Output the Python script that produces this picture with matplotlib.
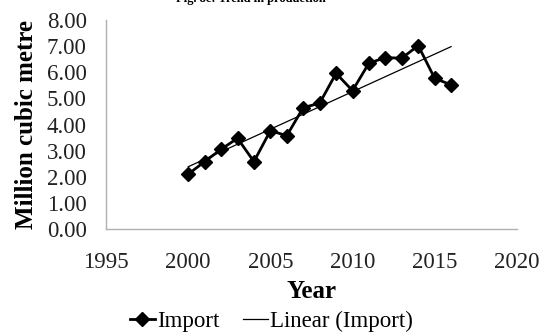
import numpy as np
import matplotlib.pyplot as plt
from matplotlib.ticker import FormatStrFormatter

# Import volume, million cubic metre
years = [2000, 2001, 2002, 2003, 2004, 2005, 2006, 2007, 2008,
         2009, 2010, 2011, 2012, 2013, 2014, 2015, 2016]
imports = [2.11, 2.59, 3.06, 3.48, 2.59, 3.77, 3.58, 4.65, 4.82,
           5.96, 5.30, 6.35, 6.56, 6.54, 7.02, 5.77, 5.52]

x_ticks = [1995, 2000, 2005, 2010, 2015, 2020]
y_ticks = [0, 1, 2, 3, 4, 5, 6, 7, 8]

plt.rcParams['font.family'] = ['Liberation Serif', 'DejaVu Serif']

fig = plt.figure(figsize=(5.44, 3.32), dpi=100)
ax = fig.add_axes([0.195, 0.309, 0.755, 0.631])

# linear trend, as excel's "Linear (Import)"
slope, intercept = np.polyfit(years, imports, 1)
trend = [slope * y + intercept for y in years]

ax.plot(years, imports, color='black', lw=2, marker='D', ms=7,
        label='Import')
ax.plot(years, trend, color='black', lw=0.9, label='Linear (Import)')

ax.set_xlim(1995, 2020)
ax.set_ylim(0, 8)
ax.set_xticks(x_ticks)
ax.set_yticks(y_ticks)
ax.yaxis.set_major_formatter(FormatStrFormatter('%.2f'))
ax.tick_params(length=0, labelsize=16.5, colors='#222222')
ax.tick_params(axis='y', pad=14)
ax.tick_params(axis='x', pad=16)

for side in ['top', 'right']:
    ax.spines[side].set_visible(False)
for side in ['left', 'bottom']:
    ax.spines[side].set_color('#b0b0b0')
    ax.spines[side].set_linewidth(1)

ax.set_xlabel('Year', fontsize=18, fontweight='bold', labelpad=5)
ax.set_ylabel('Million cubic metre', fontsize=18, fontweight='bold',
              labelpad=6)

ax.legend(loc='center', bbox_to_anchor=(0.403, -0.44), ncol=2,
          frameon=False, fontsize=16.5, handlelength=1.08, handletextpad=0.1,
          columnspacing=1.05, borderaxespad=0, borderpad=0)

# title cropped at top edge in the original
fig.text(0.462, 0.986, 'Fig. 8c: Trend in production', ha='center',
         va='bottom', fontsize=9, fontweight='bold')

fig.savefig('out.png', dpi=100)
